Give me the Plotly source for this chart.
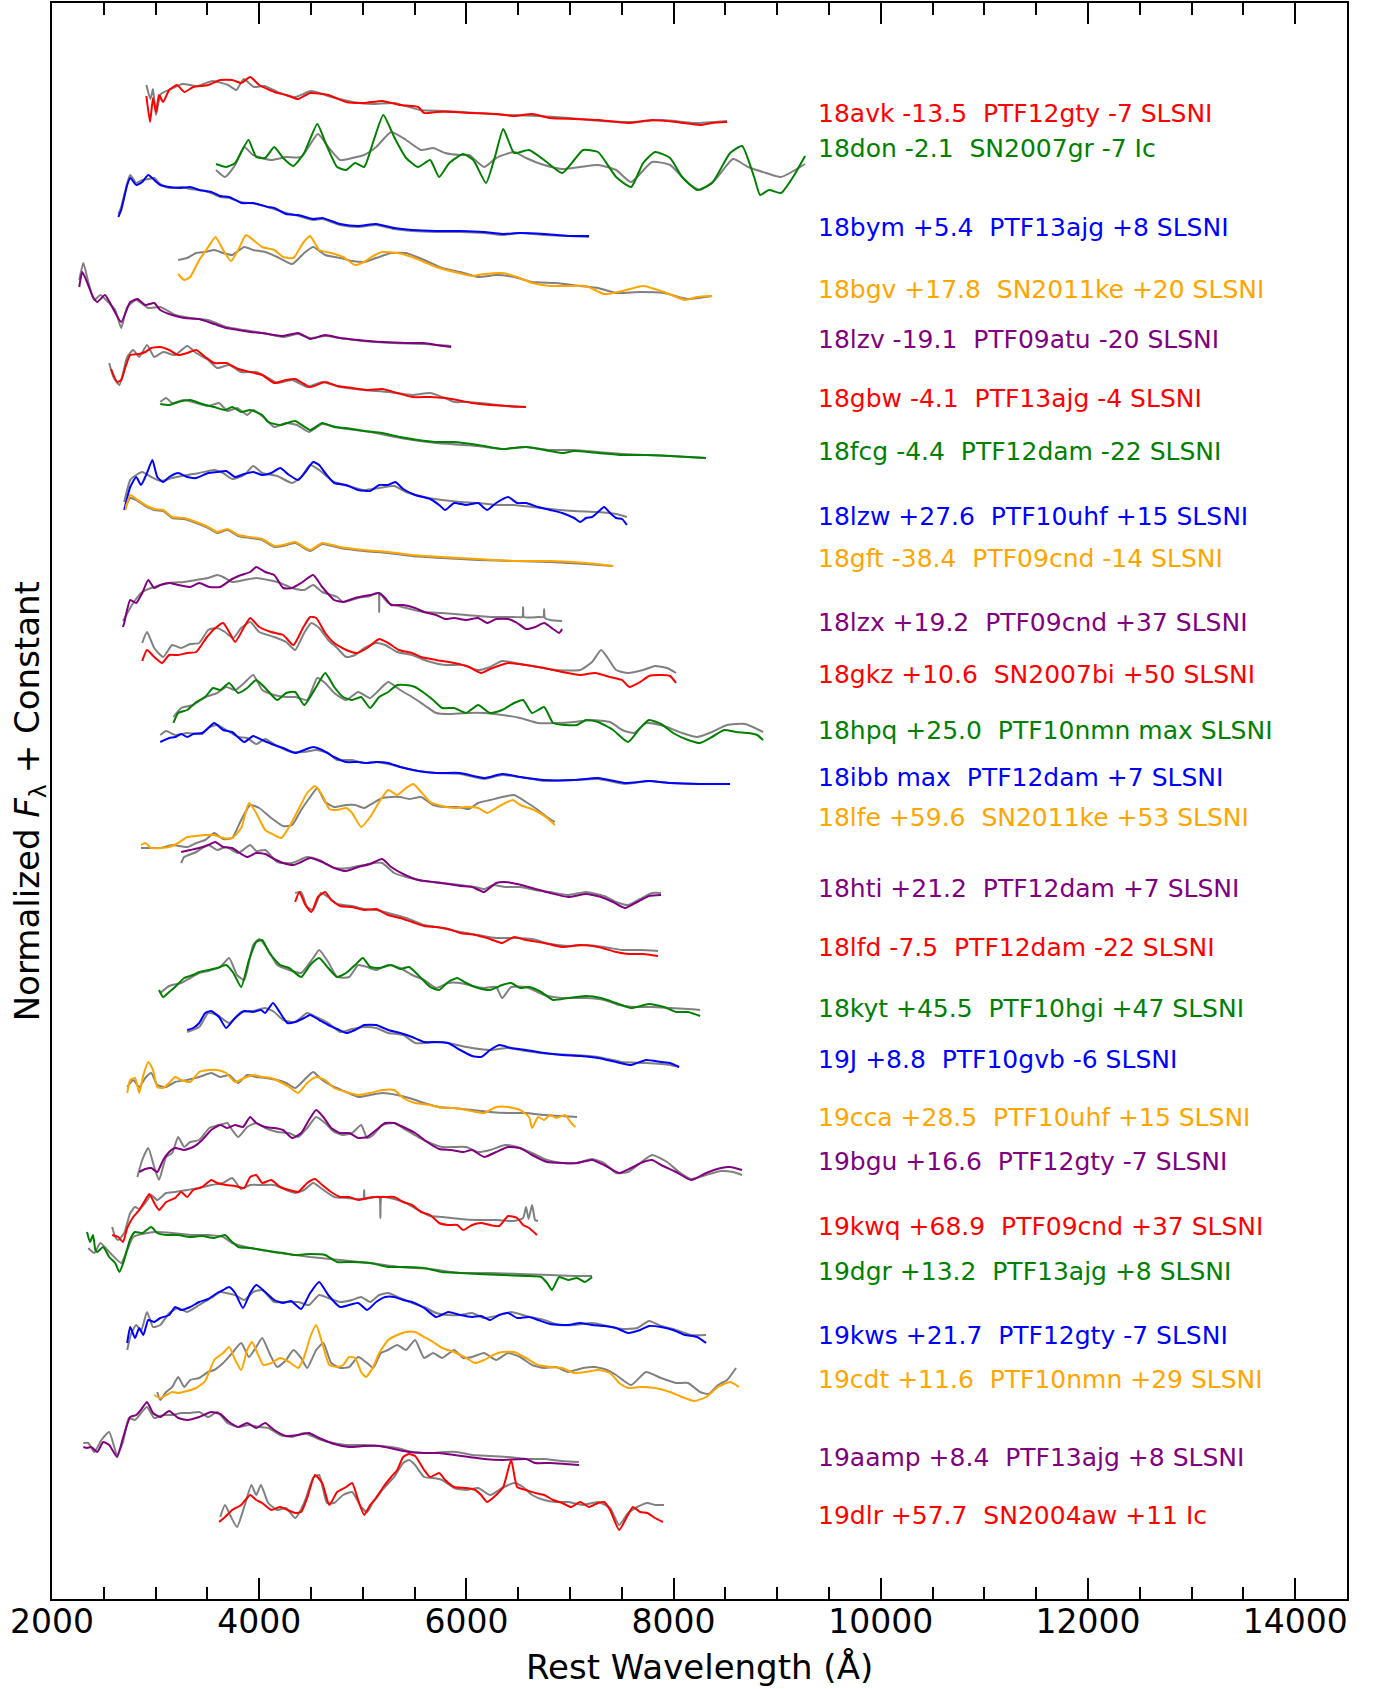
import plotly.graph_objects as go

# ---- label texts, colours and label heights (flux units) ----
labels = ["18avk -13.5  PTF12gty -7 SLSNI", "18don -2.1  SN2007gr -7 Ic", "18bym +5.4  PTF13ajg +8 SLSNI",
          "18bgv +17.8  SN2011ke +20 SLSNI", "18lzv -19.1  PTF09atu -20 SLSNI", "18gbw -4.1  PTF13ajg -4 SLSNI",
          "18fcg -4.4  PTF12dam -22 SLSNI", "18lzw +27.6  PTF10uhf +15 SLSNI", "18gft -38.4  PTF09cnd -14 SLSNI",
          "18lzx +19.2  PTF09cnd +37 SLSNI", "18gkz +10.6  SN2007bi +50 SLSNI", "18hpq +25.0  PTF10nmn max SLSNI",
          "18ibb max  PTF12dam +7 SLSNI", "18lfe +59.6  SN2011ke +53 SLSNI", "18hti +21.2  PTF12dam +7 SLSNI",
          "18lfd -7.5  PTF12dam -22 SLSNI", "18kyt +45.5  PTF10hgi +47 SLSNI", "19J +8.8  PTF10gvb -6 SLSNI",
          "19cca +28.5  PTF10uhf +15 SLSNI", "19bgu +16.6  PTF12gty -7 SLSNI", "19kwq +68.9  PTF09cnd +37 SLSNI",
          "19dgr +13.2  PTF13ajg +8 SLSNI", "19kws +21.7  PTF12gty -7 SLSNI", "19cdt +11.6  PTF10nmn +29 SLSNI",
          "19aamp +8.4  PTF13ajg +8 SLSNI", "19dlr +57.7  SN2004aw +11 Ic"]
label_y = [1486, 1451, 1372, 1310, 1260, 1201, 1148, 1083, 1041, 977, 925, 869, 822, 782, 711, 652,
           591, 540, 482, 438, 373, 328, 264, 220, 142, 84]
label_x = 9375
cycle = ["#ff0000", "#008000", "#0000ff", "#ffa500", "#800080"]
template_color = "#808080"

# ---- spectra: (rest wavelength [A], normalized flux + constant) ----
s18avk = [(2911,1503),(2946,1477),(2975,1501),(3004,1487),(3033,1504),(3073,1497),(3131,1509),(3207,1514),(3276,1507),(3363,1512),(3508,1514),(3624,1519),(3739,1519),(3826,1516),(3913,1522),(4000,1514),(4145,1507),(4260,1504),(4376,1500),(4492,1506),(4666,1504),(4839,1497),(5013,1496),(5187,1498),(5361,1494),(5534,1492),(5592,1486),(5708,1487),(5882,1487),(6055,1486),(6287,1485),(6461,1483),(6634,1485),(6808,1481),(7040,1480),(7271,1479),(7561,1476),(7792,1479),(8024,1477),(8256,1474),(8371,1476),(8516,1477)]
t18avk = [(2911,1514),(2950,1500),(2975,1510),(3004,1484),(3050,1505),(3150,1510),(3260,1515),(3400,1513),(3550,1518),(3700,1514),(3780,1509),(3850,1520),(3950,1512),(4050,1513),(4200,1506),(4350,1502),(4500,1508),(4700,1502),(4900,1497),(5100,1495),(5300,1496),(5550,1489),(5800,1488),(6100,1486),(6400,1484),(6700,1483),(7000,1481),(7300,1478),(7600,1477),(7900,1479),(8200,1476),(8516,1478)]

s18don = [(3583,1435),(3681,1432),(3768,1436),(3896,1459),(3971,1442),(4058,1441),(4145,1452),(4231,1441),(4330,1433),(4434,1446),(4561,1475),(4637,1457),(4752,1432),(4839,1429),(4926,1436),(5013,1432),(5100,1457),(5198,1484),(5303,1462),(5418,1441),(5534,1432),(5650,1439),(5737,1422),(5835,1436),(5968,1445),(6067,1439),(6189,1416),(6275,1442),(6356,1470),(6461,1446),(6605,1449),(6750,1439),(6924,1426),(7040,1439),(7126,1449),(7271,1447),(7445,1422),(7590,1412),(7706,1436),(7821,1447),(7966,1441),(8082,1422),(8227,1409),(8371,1416),(8545,1446),(8661,1453),(8777,1422),(8835,1404),(8921,1409),(9037,1406),(9153,1422),(9269,1443)]
t18don = [(3583,1429),(3670,1422),(3768,1434),(3855,1452),(3942,1444),(4116,1439),(4260,1442),(4405,1442),(4567,1465),(4666,1452),(4781,1439),(4897,1441),(5013,1444),(5129,1452),(5274,1467),(5418,1459),(5563,1449),(5679,1451),(5795,1446),(5940,1444),(6026,1444),(6171,1432),(6287,1441),(6461,1447),(6576,1441),(6750,1434),(6924,1430),(7098,1432),(7271,1434),(7445,1429),(7590,1417),(7792,1437),(7966,1434),(8140,1416),(8256,1409),(8400,1419),(8574,1440),(8719,1432),(8893,1426),(9037,1422),(9269,1435)]

s18bym = [(2640,1382),(2668,1389),(2726,1414),(2755,1421),(2813,1414),(2871,1417),(2929,1424),(2987,1419),(3045,1414),(3131,1412),(3247,1411),(3334,1412),(3421,1409),(3537,1407),(3624,1403),(3710,1402),(3826,1396),(3942,1396),(4087,1392),(4145,1391),(4260,1385),(4376,1384),(4521,1380),(4608,1381),(4781,1375),(4955,1373),(5129,1375),(5303,1371),(5476,1369),(5708,1368),(5940,1368),(6171,1367),(6345,1365),(6519,1366),(6750,1365),(6982,1363),(7184,1363)]
t18bym = [(2640,1385),(2668,1392),(2726,1416),(2755,1424),(2813,1416),(2871,1419),(2929,1420),(2987,1421),(3045,1415),(3131,1411),(3247,1412),(3334,1410),(3421,1409),(3537,1406),(3624,1402),(3710,1401),(3826,1397),(3971,1395),(4145,1390),(4260,1386),(4376,1383),(4521,1379),(4608,1380),(4781,1374),(4955,1372),(5129,1374),(5303,1370),(5476,1368),(5708,1367),(5940,1367),(6171,1366),(6345,1364),(6519,1366),(6750,1364),(6982,1363),(7184,1362)]

s18bgv = [(3218,1325),(3276,1319),(3334,1322),(3421,1339),(3508,1352),(3577,1362),(3652,1349),(3728,1338),(3797,1349),(3872,1364),(3942,1359),(4029,1352),(4145,1349),(4231,1342),(4330,1341),(4422,1356),(4492,1363),(4579,1349),(4695,1346),(4810,1342),(4926,1334),(5013,1337),(5100,1343),(5187,1347),(5332,1346),(5476,1342),(5592,1337),(5708,1332),(5882,1327),(6055,1323),(6171,1325),(6345,1326),(6490,1322),(6634,1316),(6808,1313),(6982,1313),(7155,1313),(7329,1305),(7503,1308),(7706,1313),(7908,1307),(8111,1299),(8227,1302),(8371,1303)]
t18bgv = [(3218,1339),(3305,1341),(3392,1346),(3479,1347),(3566,1349),(3652,1346),(3739,1344),(3855,1352),(3942,1349),(4058,1347),(4174,1342),(4318,1335),(4434,1346),(4521,1352),(4637,1344),(4781,1341),(4897,1338),(5013,1337),(5129,1341),(5274,1346),(5418,1346),(5592,1339),(5766,1331),(5940,1327),(6113,1322),(6287,1324),(6461,1322),(6634,1317),(6866,1316),(7098,1313),(7271,1311),(7445,1306),(7677,1307),(7908,1306),(8140,1300),(8371,1303)]

s18lzv = [(2263,1312),(2292,1327),(2338,1317),(2396,1302),(2437,1297),(2512,1304),(2581,1292),(2668,1277),(2755,1297),(2824,1300),(2900,1294),(2987,1296),(3045,1289),(3160,1284),(3276,1281),(3421,1280),(3566,1275),(3681,1271),(3797,1269),(3913,1267),(4029,1266),(4231,1263),(4376,1266),(4492,1260),(4637,1264),(4781,1261),(4955,1259),(5187,1257),(5418,1256),(5592,1256),(5708,1254),(5853,1252)]
t18lzv = [(2263,1319),(2303,1336),(2350,1317),(2408,1299),(2466,1304),(2523,1299),(2610,1289),(2668,1271),(2726,1292),(2813,1299),(2929,1291),(3045,1292),(3189,1284),(3334,1281),(3508,1279),(3681,1272),(3855,1269),(4029,1266),(4231,1262),(4376,1265),(4492,1261),(4637,1263),(4781,1261),(5000,1258),(5300,1256),(5600,1255),(5853,1253)]

s18gbw = [(2570,1230),(2628,1217),(2668,1219),(2709,1232),(2755,1244),(2842,1245),(2900,1247),(2958,1251),(3045,1252),(3131,1249),(3218,1244),(3305,1246),(3392,1249),(3479,1242),(3566,1236),(3681,1236),(3797,1230),(3913,1227),(4029,1224),(4145,1216),(4260,1219),(4347,1220),(4492,1212),(4637,1217),(4752,1213),(4897,1211),(5042,1209),(5187,1210),(5332,1206),(5476,1202),(5650,1202),(5795,1201),(5911,1199),(6055,1196),(6229,1194),(6403,1193),(6576,1192)]
t18gbw = [(2552,1236),(2593,1222),(2651,1214),(2726,1242),(2784,1249),(2842,1242),(2917,1254),(2987,1242),(3073,1247),(3189,1244),(3305,1253),(3392,1246),(3508,1239),(3595,1231),(3710,1234),(3826,1227),(3971,1227),(4087,1221),(4174,1216),(4318,1219),(4463,1212),(4608,1217),(4781,1212),(5013,1209),(5245,1207),(5476,1204),(5650,1206),(5766,1202),(5882,1197),(5998,1197),(6229,1195),(6461,1192),(6576,1192)]

s18fcg = [(3045,1195),(3131,1194),(3218,1197),(3334,1199),(3450,1195),(3566,1192),(3670,1189),(3739,1192),(3826,1187),(3913,1189),(4029,1184),(4087,1177),(4203,1174),(4347,1178),(4492,1169),(4608,1176),(4724,1172),(4839,1171),(5013,1168),(5187,1166),(5361,1162),(5534,1159),(5708,1157),(5882,1157),(6113,1154),(6345,1150),(6576,1152),(6808,1148),(6935,1146),(7040,1148),(7271,1146),(7503,1144),(7734,1144),(7966,1143),(8313,1141)]
t18fcg = [(3045,1197),(3102,1201),(3160,1196),(3276,1199),(3392,1196),(3508,1193),(3612,1196),(3693,1188),(3786,1191),(3884,1184),(3942,1189),(4041,1182),(4145,1172),(4260,1176),(4365,1174),(4480,1167),(4608,1175),(4781,1171),(5071,1167),(5361,1161),(5708,1156),(6113,1153),(6345,1150),(6576,1152),(6808,1149),(7040,1149),(7271,1147),(7503,1145),(7734,1144),(7966,1143),(8313,1141)]

s18lzw = [(2697,1089),(2755,1112),(2813,1122),(2859,1114),(2917,1126),(2969,1139),(3016,1122),(3073,1117),(3131,1122),(3218,1126),(3305,1122),(3392,1121),(3508,1126),(3595,1127),(3681,1128),(3768,1122),(3855,1125),(3942,1127),(4029,1124),(4116,1126),(4203,1131),(4289,1124),(4376,1119),(4446,1127),(4521,1137),(4579,1134),(4637,1126),(4724,1116),(4839,1114),(4955,1109),(5071,1108),(5158,1114),(5245,1114),(5314,1117),(5390,1110),(5505,1104),(5650,1100),(5737,1094),(5795,1089),(5882,1096),(5998,1094),(6113,1096),(6200,1089),(6287,1096),(6403,1102),(6490,1096),(6576,1096),(6692,1092),(6808,1089),(6924,1086),(7040,1081),(7098,1077),(7155,1081),(7213,1082),(7271,1087),(7329,1092),(7387,1086),(7445,1081),(7503,1080),(7549,1074)]
t18lzw = [(2697,1097),(2755,1119),(2813,1124),(2871,1127),(2958,1122),(3045,1118),(3160,1121),(3305,1124),(3421,1126),(3566,1129),(3652,1126),(3739,1120),(3855,1124),(3942,1133),(4029,1126),(4174,1123),(4318,1116),(4405,1122),(4492,1134),(4579,1129),(4724,1117),(4897,1112),(5013,1109),(5158,1111),(5303,1113),(5418,1107),(5592,1102),(5766,1099),(5940,1097),(6113,1096),(6287,1094),(6461,1094),(6634,1092),(6808,1090),(7040,1088),(7271,1087),(7445,1085),(7549,1082)]

s18gft = [(2709,1089),(2755,1104),(2813,1100),(2900,1094),(2987,1090),(3073,1089),(3160,1082),(3276,1081),(3392,1077),(3508,1072),(3595,1067),(3693,1070),(3797,1064),(3913,1062),(4029,1060),(4145,1053),(4231,1054),(4347,1057),(4492,1049),(4608,1056),(4781,1052),(5013,1049),(5245,1047),(5476,1044),(5766,1042),(6113,1040),(6461,1038),(6808,1038),(7155,1036),(7416,1033)]
t18gft = [(2709,1092),(2755,1101),(2813,1099),(2900,1093),(2987,1089),(3073,1088),(3160,1081),(3276,1080),(3392,1076),(3508,1071),(3595,1066),(3693,1069),(3797,1063),(3913,1061),(4029,1059),(4145,1052),(4231,1053),(4347,1056),(4492,1048),(4608,1055),(4781,1051),(5013,1048),(5245,1046),(5476,1043),(5766,1041),(6113,1039),(6461,1038),(6808,1037),(7155,1035),(7416,1033)]

s18lzx = [(2685,972),(2697,976),(2755,999),(2813,996),(2871,1006),(2929,1019),(2987,1011),(3045,1014),(3131,1016),(3218,1014),(3334,1012),(3421,1016),(3519,1012),(3624,1012),(3739,1020),(3826,1024),(3913,1027),(3971,1032),(4058,1027),(4145,1024),(4231,1011),(4318,1011),(4405,1016),(4521,1024),(4608,1012),(4724,999),(4810,997),(4926,1001),(5071,1004),(5158,1006),(5216,1001),(5274,994),(5390,994),(5505,991),(5592,987),(5708,984),(5795,980),(5882,981),(5998,979),(6113,981),(6200,976),(6287,980),(6403,980),(6490,976),(6576,970),(6663,972),(6750,976),(6837,970),(6895,966),(6924,970)]
t18lzx = [(2685,978),(2784,996),(2871,1007),(2987,1012),(3131,1016),(3276,1017),(3392,1019),(3508,1021),(3595,1024),(3652,1022),(3739,1017),(3855,1019),(3971,1021),(4087,1019),(4203,1016),(4318,1011),(4434,1009),(4521,1014),(4608,1007),(4752,1002),(4810,997),(4955,1001),(5071,1003),(5150,1006),(5158,987),(5166,1005),(5245,996),(5418,991),(5592,987),(5766,986),(5998,984),(6229,982),(6461,982),(6540,982),(6547,992),(6555,982),(6692,982),(6743,982),(6750,990),(6758,981),(6808,979),(6924,978)]

s18gkz = [(2871,938),(2917,949),(2987,942),(3062,936),(3131,944),(3218,944),(3305,946),(3392,947),(3496,962),(3577,971),(3652,976),(3710,967),(3768,957),(3855,972),(3913,981),(4000,972),(4116,967),(4231,964),(4330,954),(4422,971),(4492,982),(4550,981),(4637,966),(4724,956),(4839,949),(4944,946),(5042,951),(5158,960),(5245,956),(5349,949),(5476,946),(5563,942),(5708,939),(5882,936),(6026,932),(6142,926),(6229,930),(6403,936),(6576,934),(6750,931),(6924,927),(7098,924),(7242,926),(7387,922),(7503,919),(7572,912),(7677,917),(7763,923),(7879,924),(7966,923),(8024,916)]
t18gkz = [(2871,956),(2917,967),(2987,951),(3073,942),(3160,954),(3247,951),(3334,955),(3421,956),(3508,969),(3595,971),(3670,967),(3751,961),(3826,971),(3913,977),(4000,967),(4145,962),(4260,957),(4347,949),(4434,966),(4504,976),(4579,971),(4666,959),(4752,951),(4839,942),(4926,944),(5013,951),(5129,956),(5216,954),(5332,947),(5476,944),(5621,938),(5795,934),(5968,934),(6113,929),(6229,932),(6345,938),(6519,935),(6692,932),(6866,929),(7098,929),(7213,937),(7300,949),(7358,942),(7445,929),(7561,926),(7706,929),(7821,933),(7937,931),(8024,926)]

s18hpq = [(3172,876),(3218,886),(3305,889),(3392,897),(3479,902),(3554,911),(3624,909),(3710,916),(3797,906),(3884,911),(3971,919),(4058,911),(4174,899),(4260,906),(4347,907),(4434,894),(4550,912),(4637,926),(4724,912),(4810,902),(4897,899),(4984,902),(5071,891),(5158,902),(5245,907),(5332,914),(5418,914),(5505,912),(5592,906),(5679,899),(5766,891),(5882,891),(5998,886),(6113,894),(6229,886),(6345,889),(6461,896),(6547,899),(6634,886),(6750,892),(6837,876),(6953,874),(7068,874),(7155,879),(7271,877),(7416,869),(7561,857),(7677,871),(7763,879),(7879,875),(7995,866),(8140,859),(8256,856),(8371,862),(8487,869),(8603,867),(8719,866),(8806,864),(8864,859)]
t18hpq = [(3172,882),(3247,891),(3363,894),(3479,902),(3595,906),(3681,912),(3768,909),(3855,916),(3942,924),(4029,909),(4145,904),(4260,902),(4347,902),(4463,899),(4561,921),(4637,916),(4724,906),(4839,899),(4955,907),(5071,901),(5158,909),(5245,917),(5361,909),(5476,902),(5592,894),(5708,886),(5824,885),(5998,886),(6171,886),(6345,884),(6519,881),(6692,876),(6866,876),(7040,877),(7213,879),(7387,877),(7503,869),(7619,866),(7734,876),(7908,873),(8082,866),(8227,862),(8371,867),(8516,874),(8690,875),(8864,867)]

s18ibb = [(3045,857),(3131,861),(3189,862),(3247,865),(3305,862),(3363,865),(3450,866),(3508,871),(3566,876),(3652,869),(3739,867),(3855,857),(3942,863),(4029,859),(4145,854),(4231,851),(4347,846),(4434,849),(4521,852),(4608,849),(4724,842),(4839,837),(4955,837),(5042,836),(5129,837),(5245,836),(5361,832),(5534,828),(5708,826),(5940,826),(6171,821),(6345,825),(6519,822),(6750,819),(7040,819),(7271,821),(7532,816),(7763,818),(7966,816),(8256,815),(8545,815)]
t18ibb = [(3045,864),(3102,868),(3189,864),(3305,866),(3450,865),(3508,871),(3595,874),(3681,869),(3797,862),(3884,861),(3971,855),(4058,860),(4174,853),(4318,847),(4434,847),(4550,849),(4666,846),(4752,839),(4897,839),(5013,836),(5129,837),(5245,835),(5361,832),(5534,828),(5708,826),(5940,825),(6171,820),(6345,824),(6519,822),(6750,818),(7040,819),(7271,820),(7532,815),(7763,818),(7966,816),(8256,815),(8545,815)]

s18lfe = [(2859,754),(2900,756),(2958,751),(3045,751),(3131,752),(3218,756),(3305,762),(3392,763),(3479,764),(3566,764),(3652,761),(3739,761),(3826,771),(3901,796),(3971,786),(4058,769),(4145,764),(4214,761),(4289,772),(4376,789),(4463,806),(4538,813),(4608,804),(4677,790),(4752,789),(4839,791),(4897,786),(4984,772),(5071,782),(5158,797),(5245,809),(5332,804),(5418,811),(5488,815),(5563,807),(5650,797),(5766,793),(5882,791),(5998,792),(6113,791),(6200,786),(6287,791),(6374,796),(6449,799),(6519,794),(6605,791),(6692,787),(6779,781),(6854,774)]
t18lfe = [(2859,751),(2929,751),(3045,751),(3160,754),(3305,752),(3392,756),(3479,759),(3566,766),(3652,760),(3739,761),(3826,779),(3913,794),(4000,791),(4116,781),(4231,773),(4318,774),(4405,789),(4492,802),(4561,811),(4637,797),(4724,792),(4839,794),(4926,794),(5013,791),(5100,796),(5187,801),(5274,802),(5361,802),(5447,800),(5563,802),(5679,794),(5795,792),(5911,792),(6026,790),(6113,796),(6229,799),(6345,802),(6461,804),(6576,797),(6692,789),(6779,782),(6854,777)]

s18hti = [(3247,747),(3334,749),(3421,751),(3508,754),(3577,757),(3652,752),(3739,751),(3797,747),(3884,742),(3971,746),(4058,745),(4145,740),(4231,736),(4330,734),(4405,737),(4492,741),(4608,737),(4724,731),(4839,728),(4955,732),(5071,735),(5187,740),(5274,732),(5390,725),(5534,719),(5679,717),(5824,715),(5940,713),(6055,712),(6171,707),(6287,716),(6374,717),(6490,715),(6634,711),(6808,706),(6982,702),(7155,705),(7300,702),(7416,697),(7532,691),(7648,697),(7763,703),(7879,704)]
t18hti = [(3247,736),(3276,742),(3392,747),(3508,754),(3595,749),(3681,752),(3797,746),(3913,754),(3971,748),(4058,749),(4174,737),(4318,736),(4463,742),(4579,739),(4724,731),(4868,731),(5013,734),(5100,736),(5187,736),(5303,726),(5418,722),(5592,718),(5766,716),(5940,714),(6084,712),(6171,710),(6258,714),(6374,712),(6519,712),(6663,709),(6808,707),(6982,704),(7155,707),(7329,703),(7445,697),(7561,694),(7677,700),(7792,706),(7879,706)]

s18lfd = [(4347,697),(4388,707),(4446,694),(4504,687),(4567,702),(4637,707),(4695,699),(4781,693),(4897,692),(5013,689),(5129,690),(5245,684),(5361,681),(5476,677),(5592,673),(5708,672),(5824,670),(5940,666),(6084,664),(6229,660),(6345,656),(6461,662),(6576,659),(6750,656),(6924,652),(7098,654),(7271,652),(7445,647),(7561,645),(7706,645),(7850,643)]
t18lfd = [(4347,706),(4405,707),(4463,692),(4521,689),(4596,706),(4666,702),(4752,695),(4897,693),(5013,690),(5129,689),(5245,686),(5418,681),(5592,674),(5766,671),(5940,667),(6113,664),(6287,661),(6461,661),(6634,660),(6808,655),(6982,653),(7155,654),(7329,652),(7503,649),(7677,649),(7850,648)]

s18kyt = [(3033,609),(3073,602),(3131,607),(3189,612),(3276,621),(3363,624),(3421,627),(3508,629),(3595,631),(3681,634),(3751,626),(3826,612),(3901,639),(3971,657),(4029,659),(4098,646),(4203,634),(4289,631),(4405,622),(4492,634),(4579,641),(4666,631),(4752,622),(4839,626),(4926,634),(5001,641),(5071,632),(5158,631),(5274,634),(5361,630),(5447,632),(5534,624),(5650,612),(5737,609),(5824,617),(5911,621),(5998,616),(6113,611),(6229,609),(6345,614),(6432,616),(6519,611),(6605,612),(6721,607),(6837,599),(6982,601),(7155,603),(7300,601),(7445,596),(7590,591),(7763,595),(7908,592),(8024,587),(8140,587),(8256,583)]
t18kyt = [(3045,606),(3131,613),(3247,616),(3334,621),(3421,626),(3508,628),(3624,632),(3710,641),(3786,624),(3855,619),(3942,654),(4000,660),(4087,649),(4174,634),(4289,629),(4405,626),(4521,641),(4579,649),(4666,637),(4752,622),(4868,622),(4955,634),(5042,632),(5129,629),(5245,634),(5361,631),(5476,624),(5592,619),(5708,611),(5824,616),(5940,616),(6055,613),(6171,611),(6287,612),(6345,601),(6432,612),(6576,612),(6750,604),(6924,601),(7155,601),(7329,599),(7474,594),(7619,592),(7792,592),(7966,591),(8140,590),(8256,589)]

s19J = [(3305,569),(3363,571),(3421,576),(3479,586),(3537,588),(3612,582),(3681,571),(3768,581),(3855,588),(3942,587),(4017,589),(4058,586),(4133,596),(4203,586),(4272,576),(4347,577),(4434,581),(4492,584),(4579,579),(4666,574),(4752,570),(4839,566),(4926,569),(5013,574),(5129,574),(5245,569),(5361,566),(5476,562),(5592,557),(5708,557),(5824,556),(5940,549),(6055,543),(6142,542),(6229,549),(6316,554),(6432,551),(6576,549),(6750,546),(6924,544),(7098,543),(7271,541),(7445,537),(7590,534),(7734,539),(7879,537),(7966,536),(8053,532)]
t19J = [(3305,567),(3421,572),(3508,586),(3595,584),(3710,576),(3826,587),(3942,588),(4058,591),(4145,587),(4231,579),(4347,577),(4463,586),(4550,582),(4666,576),(4781,567),(4897,570),(5013,572),(5129,571),(5245,566),(5390,564),(5505,556),(5621,556),(5766,557),(5911,554),(6055,551),(6229,549),(6403,551),(6576,548),(6808,545),(7040,544),(7271,542),(7503,537),(7734,536),(7966,534),(8053,532)]

s19cca = [(2726,506),(2755,519),(2801,521),(2842,506),(2882,524),(2929,537),(2975,529),(3016,512),(3073,511),(3131,516),(3189,522),(3247,519),(3334,517),(3421,527),(3508,529),(3595,529),(3681,526),(3768,517),(3855,521),(3942,524),(4029,522),(4116,521),(4203,517),(4289,512),(4376,506),(4463,516),(4550,522),(4637,519),(4724,511),(4839,507),(4955,504),(5071,506),(5187,509),(5303,509),(5390,501),(5505,496),(5650,494),(5766,491),(5882,491),(5998,489),(6171,486),(6287,492),(6403,492),(6519,489),(6605,482),(6634,471),(6692,482),(6750,479),(6808,484),(6866,481),(6953,484),(7011,476),(7051,472)]
t19cca = [(2726,512),(2784,519),(2842,512),(2900,521),(2958,526),(3016,514),(3102,512),(3189,517),(3305,519),(3421,522),(3537,526),(3624,522),(3710,524),(3797,516),(3884,524),(3971,522),(4058,521),(4174,519),(4260,516),(4347,511),(4434,519),(4521,527),(4608,519),(4724,512),(4839,507),(4955,502),(5071,504),(5187,506),(5332,504),(5447,501),(5592,496),(5737,492),(5882,491),(6055,489),(6229,487),(6403,486),(6576,486),(6750,484),(6924,483),(7068,482)]

s19bgu = [(2842,427),(2900,430),(2958,431),(3016,427),(3073,439),(3131,447),(3189,451),(3276,449),(3363,452),(3450,459),(3537,469),(3624,474),(3693,471),(3768,474),(3843,472),(3913,482),(3971,476),(4058,472),(4145,471),(4231,469),(4318,461),(4405,466),(4480,479),(4550,489),(4619,482),(4695,471),(4781,466),(4868,466),(4955,461),(5042,462),(5129,469),(5216,476),(5303,476),(5390,472),(5505,466),(5621,457),(5737,450),(5853,449),(5968,447),(6055,449),(6171,442),(6287,447),(6403,452),(6519,451),(6634,444),(6779,437),(6924,436),(7068,436),(7213,439),(7329,434),(7474,426),(7590,431),(7706,437),(7792,439),(7879,434),(8024,427),(8169,419),(8314,426),(8458,431),(8545,432),(8661,429)]
t19bgu = [(2824,422),(2871,439),(2929,451),(2987,432),(3033,419),(3102,442),(3160,446),(3218,462),(3276,452),(3334,457),(3421,459),(3519,471),(3612,474),(3693,476),(3739,469),(3797,462),(3884,472),(3971,476),(4058,471),(4174,467),(4289,466),(4376,462),(4463,471),(4550,482),(4637,476),(4724,467),(4810,464),(4897,466),(4984,474),(5042,461),(5100,464),(5187,474),(5303,476),(5418,469),(5534,462),(5650,456),(5766,452),(5882,452),(5998,452),(6113,447),(6229,449),(6374,454),(6490,452),(6634,446),(6779,439),(6924,436),(7068,436),(7213,440),(7329,436),(7445,426),(7561,427),(7677,436),(7792,444),(7937,437),(8053,427),(8169,420),(8314,424),(8458,428),(8574,427),(8661,424)]

s19kwq = [(2581,364),(2639,362),(2685,357),(2726,371),(2784,382),(2842,389),(2900,399),(2940,405),(2987,396),(3033,389),(3102,397),(3189,401),(3247,407),(3305,402),(3363,409),(3450,412),(3537,419),(3595,416),(3681,414),(3768,413),(3855,411),(3913,422),(3971,424),(4029,416),(4116,419),(4203,412),(4289,409),(4376,407),(4463,416),(4538,420),(4608,414),(4695,407),(4781,402),(4868,402),(4955,399),(5042,401),(5129,402),(5216,402),(5303,402),(5390,397),(5476,394),(5563,387),(5650,384),(5737,376),(5824,374),(5911,374),(5968,369),(6055,374),(6142,376),(6229,374),(6316,373),(6403,383),(6490,381),(6547,374),(6605,371),(6681,364)]
t19kwq = [(2581,372),(2610,362),(2639,359),(2697,366),(2755,386),(2801,392),(2842,390),(2900,396),(2958,404),(3016,399),(3102,406),(3189,407),(3305,409),(3421,411),(3537,414),(3652,416),(3739,421),(3826,410),(3913,414),(4029,414),(4145,414),(4260,409),(4347,406),(4434,409),(4521,416),(4608,410),(4724,402),(4839,401),(4955,400),(5005,400),(5013,409),(5021,400),(5071,401),(5158,402),(5170,381),(5182,402),(5303,400),(5418,396),(5534,389),(5650,383),(5766,382),(5940,380),(6113,379),(6287,379),(6461,378),(6547,381),(6576,392),(6600,380),(6634,394),(6663,379),(6692,378)]

s19dgr = [(2338,367),(2367,357),(2396,364),(2419,349),(2437,347),(2494,352),(2552,342),(2610,336),(2651,327),(2697,339),(2755,360),(2801,367),(2871,366),(2958,372),(3016,366),(3102,364),(3218,364),(3334,362),(3450,363),(3566,361),(3670,364),(3739,357),(3797,352),(3913,351),(4029,349),(4145,347),(4231,346),(4347,344),(4492,345),(4637,344),(4752,337),(4897,337),(5071,336),(5245,332),(5418,332),(5592,331),(5766,327),(5940,326),(6113,325),(6345,324),(6576,323),(6721,322),(6779,316),(6826,309),(6895,322),(6982,319),(7068,321),(7144,317),(7213,322)]
t19dgr = [(2350,351),(2408,346),(2466,356),(2535,349),(2610,341),(2668,336),(2726,349),(2784,362),(2870,365),(2987,367),(3160,366),(3334,364),(3508,364),(3652,362),(3739,356),(3913,351),(4203,346),(4492,342),(4781,339),(5071,336),(5361,332),(5650,330),(5940,326),(6229,326),(6519,325),(6808,324),(7040,323),(7213,323)]

s19kws = [(2726,256),(2755,272),(2801,261),(2842,271),(2882,264),(2929,279),(2987,277),(3045,281),(3131,284),(3189,292),(3247,289),(3334,292),(3421,297),(3508,300),(3595,306),(3652,309),(3710,312),(3768,306),(3843,291),(3913,306),(3971,314),(4058,307),(4145,299),(4231,296),(4307,298),(4405,290),(4492,306),(4579,317),(4666,304),(4781,292),(4868,294),(4955,296),(5042,289),(5129,297),(5216,302),(5303,302),(5390,299),(5476,297),(5592,291),(5708,282),(5824,287),(5940,284),(6055,282),(6142,283),(6229,279),(6316,284),(6403,286),(6490,281),(6605,282),(6692,279),(6808,275),(6982,274),(7098,276),(7213,274),(7329,273),(7445,271),(7561,266),(7677,269),(7763,273),(7879,272),(7995,269),(8111,264),(8227,262),(8314,256)]
t19kws = [(2726,249),(2766,266),(2813,274),(2859,268),(2917,287),(2975,272),(3045,274),(3131,286),(3218,291),(3305,287),(3421,294),(3537,301),(3624,307),(3681,306),(3768,304),(3855,299),(3942,307),(4029,309),(4145,297),(4260,297),(4376,297),(4480,294),(4579,304),(4666,301),(4781,297),(4897,299),(4984,302),(5071,297),(5158,304),(5245,306),(5361,301),(5476,296),(5592,292),(5708,286),(5824,284),(5940,284),(6055,286),(6171,281),(6287,283),(6432,287),(6576,283),(6750,279),(6895,274),(7040,274),(7213,276),(7358,273),(7503,270),(7648,271),(7763,278),(7879,273),(8024,269),(8169,264),(8314,264)]

s19cdt = [(2987,204),(3045,201),(3102,204),(3160,207),(3218,206),(3305,208),(3392,211),(3479,218),(3566,239),(3652,246),(3710,252),(3768,239),(3826,229),(3884,249),(3930,257),(3982,246),(4041,234),(4116,236),(4203,241),(4289,237),(4376,231),(4434,242),(4492,262),(4550,274),(4608,256),(4677,234),(4752,232),(4810,234),(4868,242),(4926,241),(4984,227),(5031,222),(5100,232),(5158,246),(5245,259),(5332,264),(5418,267),(5505,267),(5592,262),(5679,257),(5766,251),(5882,247),(5998,241),(6084,236),(6171,239),(6258,244),(6345,247),(6461,247),(6576,241),(6692,234),(6808,232),(6924,231),(7040,226),(7155,227),(7271,229),(7387,226),(7474,216),(7561,211),(7677,212),(7821,211),(7966,207),(8082,202),(8198,198),(8314,202),(8429,212),(8545,217),(8632,212)]
t19cdt = [(3016,207),(3045,199),(3102,207),(3160,212),(3218,222),(3276,212),(3334,219),(3421,221),(3508,227),(3566,229),(3652,236),(3739,246),(3826,256),(3901,242),(3971,252),(4029,261),(4098,246),(4174,232),(4260,239),(4330,249),(4405,241),(4463,231),(4550,249),(4619,256),(4695,236),(4781,231),(4868,232),(4955,242),(5042,236),(5100,231),(5175,246),(5245,249),(5332,254),(5418,249),(5505,259),(5592,241),(5679,246),(5766,241),(5882,249),(5968,241),(6055,242),(6171,246),(6287,239),(6403,246),(6519,242),(6634,234),(6750,231),(6866,232),(6982,227),(7126,231),(7242,232),(7358,229),(7445,224),(7590,214),(7734,227),(7879,221),(8024,216),(8140,216),(8256,207),(8337,205),(8429,214),(8516,219),(8603,231)]

s19aamp = [(2303,152),(2338,151),(2379,152),(2437,147),(2494,157),(2552,154),(2628,142),(2685,161),(2755,182),(2813,184),(2871,191),(2917,197),(2975,186),(3045,182),(3131,188),(3218,181),(3305,179),(3421,182),(3537,187),(3624,185),(3710,177),(3797,172),(3884,176),(3971,171),(4058,176),(4145,169),(4260,163),(4376,164),(4480,166),(4579,161),(4724,155),(4868,152),(5013,153),(5158,153),(5303,150),(5447,147),(5592,146),(5737,146),(5882,144),(6026,142),(6171,140),(6345,139),(6576,140),(6663,136),(6808,136),(6953,135),(7086,134)]
t19aamp = [(2303,156),(2350,156),(2408,147),(2477,159),(2552,167),(2628,144),(2685,157),(2743,181),(2801,179),(2859,186),(2917,192),(2987,181),(3073,184),(3160,184),(3247,186),(3334,186),(3421,187),(3508,182),(3595,187),(3693,176),(3797,172),(3901,174),(4000,172),(4087,171),(4203,164),(4318,162),(4434,166),(4550,161),(4666,157),(4839,154),(5013,154),(5187,153),(5332,151),(5476,147),(5650,146),(5795,147),(5911,147),(6055,144),(6229,143),(6403,142),(6576,140),(6750,140),(6924,138),(7086,137)]

s19dlr = [(3612,77),(3670,82),(3739,89),(3826,94),(3913,104),(3971,99),(4029,96),(4116,89),(4203,92),(4272,89),(4347,86),(4405,87),(4463,101),(4538,124),(4608,116),(4677,94),(4752,107),(4839,112),(4897,116),(4955,99),(5013,84),(5071,94),(5129,101),(5198,112),(5274,122),(5332,129),(5390,142),(5447,145),(5505,143),(5592,129),(5650,122),(5737,126),(5795,119),(5882,112),(5998,111),(6084,109),(6142,104),(6200,97),(6287,104),(6356,112),(6432,139),(6490,112),(6576,109),(6663,106),(6750,104),(6837,99),(6924,96),(7011,92),(7098,97),(7184,92),(7271,96),(7329,97),(7387,89),(7474,69),(7549,82),(7607,92),(7677,87),(7746,86),(7821,81),(7896,77)]
t19dlr = [(3624,82),(3670,94),(3728,82),(3786,72),(3855,92),(3925,114),(3971,104),(4017,114),(4087,96),(4174,89),(4260,91),(4347,81),(4434,96),(4521,121),(4579,124),(4654,96),(4724,96),(4810,104),(4897,107),(4984,92),(5042,87),(5100,97),(5187,109),(5303,122),(5390,136),(5447,139),(5505,134),(5592,122),(5679,121),(5766,119),(5882,111),(5998,109),(6113,111),(6229,104),(6345,111),(6461,116),(6547,112),(6634,104),(6750,99),(6866,97),(6982,97),(7126,94),(7271,97),(7387,91),(7474,74),(7561,86),(7648,92),(7746,96),(7821,94),(7908,94)]

objects = [s18avk, s18don, s18bym, s18bgv, s18lzv, s18gbw, s18fcg, s18lzw, s18gft, s18lzx, s18gkz, s18hpq,
           s18ibb, s18lfe, s18hti, s18lfd, s18kyt, s19J, s19cca, s19bgu, s19kwq, s19dgr, s19kws, s19cdt,
           s19aamp, s19dlr]
templates = [t18avk, t18don, t18bym, t18bgv, t18lzv, t18gbw, t18fcg, t18lzw, t18gft, t18lzx, t18gkz, t18hpq,
             t18ibb, t18lfe, t18hti, t18lfd, t18kyt, t19J, t19cca, t19bgu, t19kwq, t19dgr, t19kws, t19cdt,
             t19aamp, t19dlr]

FONT = "DejaVu Sans"
fig = go.Figure()
for i, (obj, tpl) in enumerate(zip(objects, templates)):
    col = cycle[i % len(cycle)]
    tw, tf = zip(*tpl)
    fig.add_trace(go.Scatter(x=list(tw), y=list(tf), mode="lines",
                             line=dict(color=template_color, width=2, shape="spline", smoothing=0.5),
                             hoverinfo="skip", showlegend=False))
    ow, of = zip(*obj)
    fig.add_trace(go.Scatter(x=list(ow), y=list(of), mode="lines",
                             line=dict(color=col, width=2, shape="spline", smoothing=0.5),
                             hoverinfo="skip", showlegend=False))

for i, (txt, yy) in enumerate(zip(labels, label_y)):
    fig.add_annotation(x=label_x, y=yy, text=txt, showarrow=False, xanchor="left", yanchor="middle",
                       font=dict(family=FONT, size=25, color=cycle[i % len(cycle)]))

fig.add_annotation(xref="paper", yref="paper", x=-0.0175, y=0.5, textangle=-90,
                   text="Normalized <i>F</i><sub>λ</sub> + Constant", showarrow=False,
                   xanchor="center", yanchor="middle", font=dict(family=FONT, size=34, color="black"))
fig.add_annotation(xref="paper", yref="paper", x=0.5, y=-0.0426, text="Rest Wavelength (Å)",
                   showarrow=False, xanchor="center", yanchor="middle",
                   font=dict(family=FONT, size=34, color="black"))

fig.update_layout(
    width=1378, height=1689,
    margin=dict(l=52, r=31, t=3, b=90, autoexpand=False),
    paper_bgcolor="white", plot_bgcolor="white",
    font=dict(family=FONT, color="black"),
    xaxis=dict(range=[2000, 14500], tick0=2000, dtick=2000, tickformat="d", ticks="inside", ticklen=21,
               tickwidth=2, tickcolor="black", showline=True, linecolor="black", linewidth=1.5,
               mirror="ticks", showgrid=False, zeroline=False, tickfont=dict(family=FONT, size=33),
               ticklabelstandoff=-7,
               minor=dict(ticks="inside", dtick=500, tick0=2000, ticklen=12, tickwidth=2, tickcolor="black",
                          showgrid=False)),
    yaxis=dict(range=[0, 1596], showticklabels=False, ticks="", showline=True, linecolor="black",
               linewidth=1.5, mirror=True, showgrid=False, zeroline=False),
)

fig.write_html("out.html", config={"displayModeBar": False},
               post_script="document.body.style.margin='0';document.body.style.padding='0';")
